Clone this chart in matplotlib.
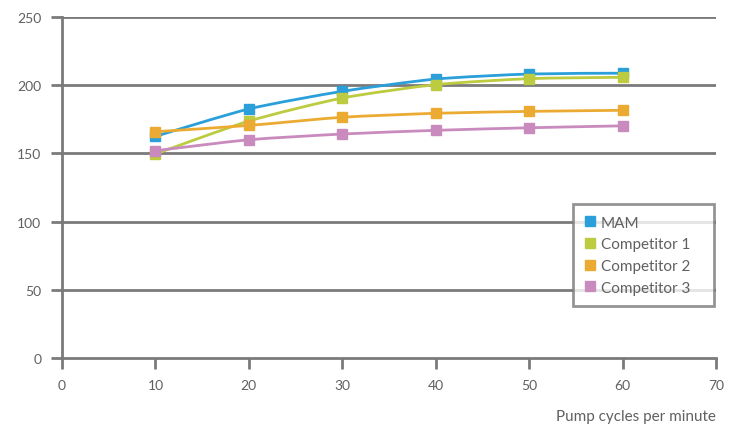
import matplotlib
matplotlib.use("Agg")
import matplotlib.pyplot as plt
import numpy as np
from matplotlib.path import Path
from matplotlib.patches import PathPatch
from matplotlib.lines import Line2D

x_vals = [10, 20, 30, 40, 50, 60]
series_names = ["MAM", "Competitor 1", "Competitor 2", "Competitor 3"]
mam = [162.5, 182.6, 195.5, 204.5, 208.2, 208.8]
comp1 = [149.6, 173.7, 190.6, 200.4, 204.8, 205.8]
comp2 = [165.9, 170.5, 176.5, 179.4, 180.8, 181.6]
comp3 = [152.0, 160.0, 164.2, 166.9, 168.8, 170.2]
colors = ["#2a9fd9", "#bccb3f", "#ebab33", "#c98bbd"]
x_ticks = [0, 10, 20, 30, 40, 50, 60, 70]
y_ticks = [0, 50, 100, 150, 200, 250]
x_label = "Pump cycles per minute"

gray = "#7a7a7a"
txt = "#606060"
plt.rcParams['font.family'] = ['Lato', 'DejaVu Sans']

fig = plt.figure(figsize=(7.39, 4.27), dpi=100)
ax = fig.add_axes([62/739, 1-359/427, 654/739, 341/427])
ax.set_xlim(0, 70)
ax.set_ylim(0, 250)

def smooth_path(xs, ys):
    xs = np.asarray(xs, float); ys = np.asarray(ys, float)
    verts = [(xs[0], ys[0])]
    codes = [Path.MOVETO]
    n = len(xs)
    t = 1/9
    for i in range(n-1):
        p0 = (xs[i-1], ys[i-1]) if i > 0 else (xs[i], ys[i])
        p1 = (xs[i], ys[i]); p2 = (xs[i+1], ys[i+1])
        p3 = (xs[i+2], ys[i+2]) if i+2 < n else p2
        c1 = (p1[0] + (p2[0]-p0[0])*t, p1[1] + (p2[1]-p0[1])*t)
        c2 = (p2[0] - (p3[0]-p1[0])*t, p2[1] - (p3[1]-p1[1])*t)
        verts += [c1, c2, p2]
        codes += [Path.CURVE4]*3
    return Path(verts, codes)

for yv in y_ticks[1:]:
    ax.axhline(yv, color=gray, lw=2, zorder=1)

all_series = [mam, comp1, comp2, comp3]
order = [3, 2, 1, 0]
for i in order:
    ys = all_series[i]
    ax.add_patch(PathPatch(smooth_path(x_vals, ys), fill=False, edgecolor=colors[i], lw=2, zorder=3+i*0.1))
    ax.plot(x_vals, ys, ls='none', marker='s', ms=7.5, color=colors[i], zorder=3.05+i*0.1)

for s in ['top', 'right']:
    ax.spines[s].set_visible(False)
for s in ['left', 'bottom']:
    ax.spines[s].set_color(gray)
    ax.spines[s].set_linewidth(2)

ax.set_xticks(x_ticks)
ax.set_yticks(y_ticks)
ax.tick_params(axis='x', direction='out', length=8, width=2, color=gray, labelcolor=txt, labelsize=10, pad=7)
ax.tick_params(axis='y', direction='out', length=8, width=2, color=gray, labelcolor=txt, labelsize=10, pad=7)

fig.text(716/739, 1-417/427, x_label, ha='right', va='center', color=txt, fontsize=11)

handles = [Line2D([], [], ls='none', marker='s', ms=7.5, color=c) for c in colors]
leg = ax.legend(handles, series_names, loc='lower left', bbox_to_anchor=(0.781, 0.152, 0.216, 0.293),
                mode='expand', frameon=True, fancybox=False, handlelength=0.7, handletextpad=0.4,
                borderpad=0.75, borderaxespad=0, labelspacing=0.5, fontsize=11, labelcolor=txt)
leg.get_frame().set_edgecolor(gray)
leg.get_frame().set_linewidth(2)
leg.set_zorder(10)

fig.savefig("out.png", dpi=100)
